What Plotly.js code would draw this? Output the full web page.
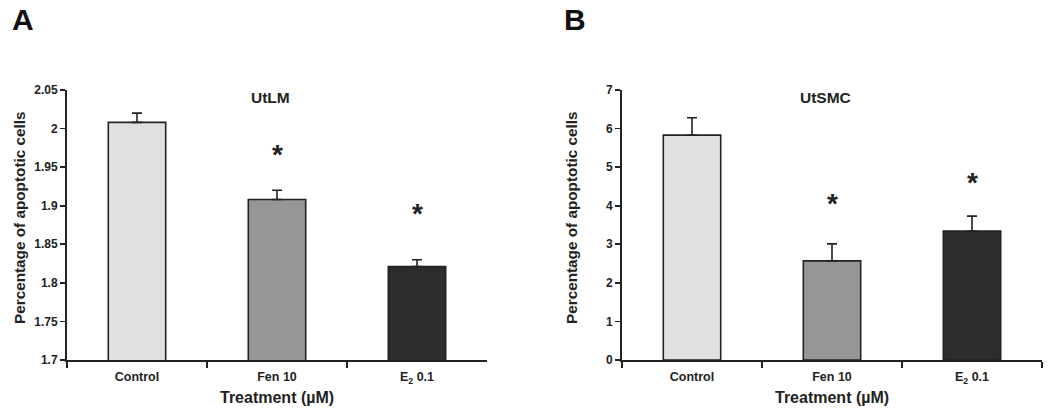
<!DOCTYPE html>
<html>
<head>
<meta charset="utf-8">
<script src="https://cdn.plot.ly/plotly-3.0.1.min.js"></script>
<style>html,body{margin:0;padding:0;background:#fff;}#chart{width:1050px;height:414px;}</style>
</head>
<body>
<div id="chart"></div>
<script>
// ---- data ----
const categories = ["Control", "Fen 10", "E<sub>2</sub> 0.1"];
const barColors = ["#e0e0e0", "#969696", "#2d2d2d"];

// Panel A: UtLM
const valuesA = [2.008, 1.908, 1.821];
const errorsA = [0.012, 0.012, 0.009];
const starsA = [null, 1.970, 1.894];
const tickValsA = [1.7, 1.75, 1.8, 1.85, 1.9, 1.95, 2, 2.05];
const tickTextA = ["1.7", "1.75", "1.8", "1.85", "1.9", "1.95", "2", "2.05"];

// Panel B: UtSMC
const valuesB = [5.83, 2.57, 3.34];
const errorsB = [0.45, 0.44, 0.39];
const starsB = [null, 4.13, 4.67];
const tickValsB = [0, 1, 2, 3, 4, 5, 6, 7];
const tickTextB = ["0", "1", "2", "3", "4", "5", "6", "7"];

const panelTitles = ["UtLM", "UtSMC"];
const panelLetters = ["A", "B"];
const yTitle = "Percentage of apoptotic cells";
const xTitle = "Treatment (µM)";

// ---- styles ----
const FONT = "Liberation Sans, Arial, Helvetica, sans-serif";
const INK = "#222222";
const W = 1050, H = 414;
const px = v => v / W;
const py = v => (H - v) / H;

function barTrace(vals, errs, xa, ya) {
  return {
    type: "bar", x: categories, y: vals, xaxis: xa, yaxis: ya,
    width: 0.41,
    marker: {color: barColors, line: {color: INK, width: 1.6}},
    error_y: {type: "data", array: errs, symmetric: false, arrayminus: errs.map(() => 0),
              color: INK, thickness: 1.6, width: 5},
    hoverinfo: "none", showlegend: false
  };
}

function xAxis(domain, anchor) {
  return {
    domain: domain, anchor: anchor, type: "category",
    range: [-0.5, 2.5], showline: true, linecolor: INK, linewidth: 2,
    ticks: "outside", tickson: "boundaries", ticklen: 6, tickwidth: 1.6, tickcolor: INK,
    ticklabelstandoff: 4,
    showgrid: false, zeroline: false, fixedrange: true,
    tickfont: {family: FONT, size: 12.5, color: INK, weight: 700}
  };
}
function yAxis(range, tv, tt, anchor) {
  return {
    domain: [py(360), py(90)], anchor: anchor, range: range,
    tickmode: "array", tickvals: tv, ticktext: tt,
    showline: true, linecolor: INK, linewidth: 2,
    ticks: "outside", ticklen: 5, tickwidth: 1.6, tickcolor: INK,
    showgrid: false, zeroline: false, fixedrange: true,
    tickfont: {family: FONT, size: 12, color: INK, weight: 700}
  };
}

const annotations = [];
function addStars(stars, xref, yref) {
  stars.forEach((s, i) => {
    if (s === null) return;
    annotations.push({x: categories[i], y: s, xref: xref, yref: yref, text: "*",
      showarrow: false, yanchor: "middle", yshift: -3,
      font: {family: FONT, size: 28, color: INK, weight: 700}});
  });
}
addStars(starsA, "x", "y");
addStars(starsB, "x2", "y2");

const panels = [
  {titleX: 270, ytX: 19, xtX: 277, letterX: 23},
  {titleX: 825, ytX: 571, xtX: 832, letterX: 575}
];
panels.forEach((p, k) => {
  annotations.push({x: px(p.titleX), y: py(97), xref: "paper", yref: "paper", text: panelTitles[k],
    showarrow: false, xanchor: "center", yanchor: "middle",
    font: {family: FONT, size: 15.5, color: INK, weight: 700}});
  annotations.push({x: px(p.ytX), y: py(218), xref: "paper", yref: "paper", text: yTitle,
    textangle: -90, showarrow: false, xanchor: "center", yanchor: "middle",
    font: {family: FONT, size: 15.3, color: INK, weight: 700}});
  annotations.push({x: px(p.xtX), y: py(397), xref: "paper", yref: "paper", text: xTitle,
    showarrow: false, xanchor: "center", yanchor: "middle",
    font: {family: FONT, size: 16, color: INK, weight: 700}});
  annotations.push({x: px(p.letterX), y: py(20), xref: "paper", yref: "paper", text: panelLetters[k],
    showarrow: false, xanchor: "center", yanchor: "middle",
    font: {family: FONT, size: 30, color: "#111111", weight: 700}});
});

const layout = {
  width: W, height: H, margin: {l: 0, r: 0, t: 0, b: 0},
  paper_bgcolor: "#ffffff", plot_bgcolor: "#ffffff",
  showlegend: false, bargap: 0.59,
  xaxis: xAxis([px(67), px(487)], "y"),
  yaxis: yAxis([1.7, 2.05], tickValsA, tickTextA, "x"),
  xaxis2: xAxis([px(622), px(1042)], "y2"),
  yaxis2: yAxis([0, 7], tickValsB, tickTextB, "x2"),
  annotations: annotations
};

Plotly.newPlot("chart", [barTrace(valuesA, errorsA, "x", "y"), barTrace(valuesB, errorsB, "x2", "y2")],
  layout, {staticPlot: true, displayModeBar: false});
</script>
</body>
</html>
